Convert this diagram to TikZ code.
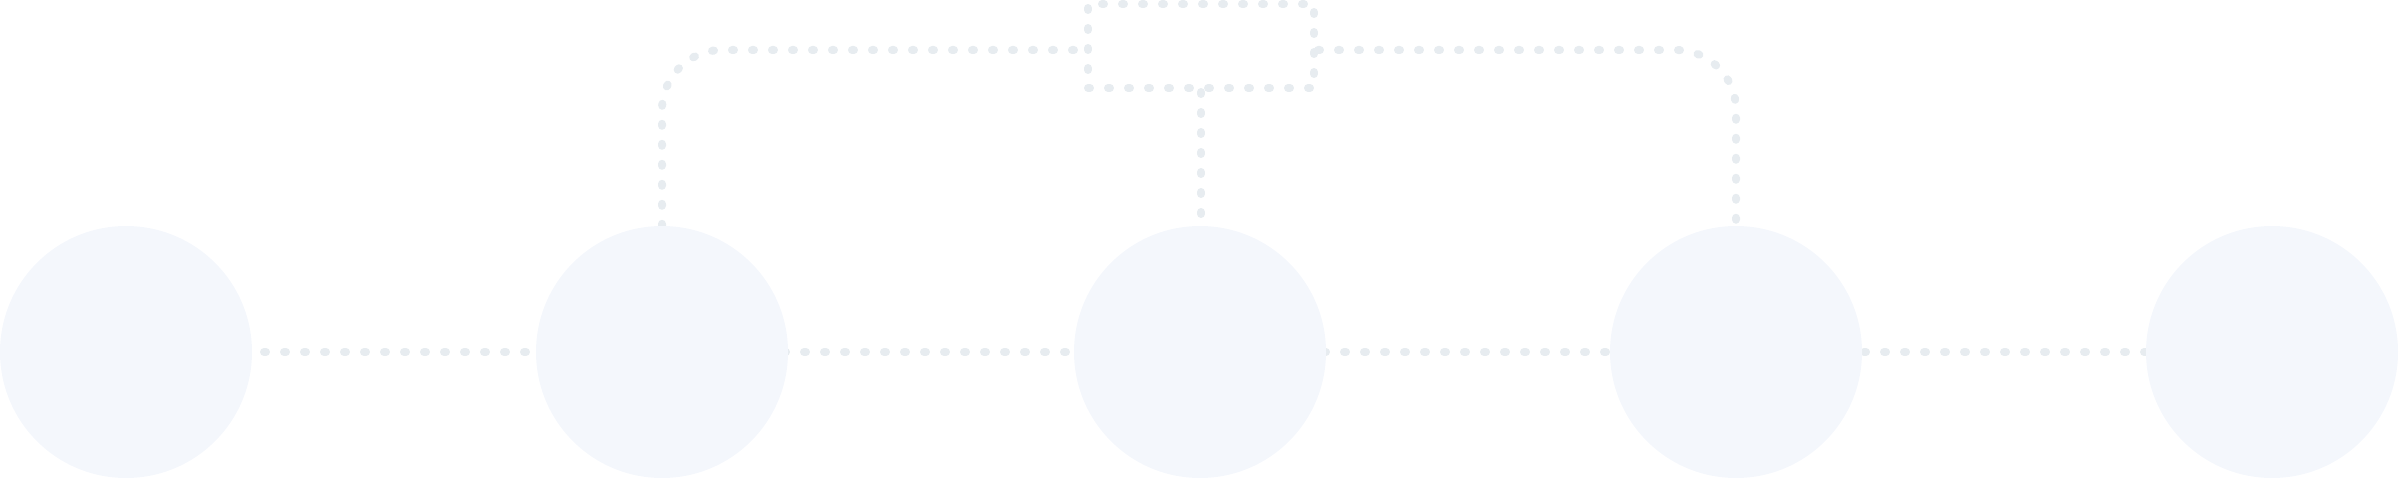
\documentclass[tikz,border=0pt]{standalone}
\usetikzlibrary{backgrounds}
\definecolor{dotgrey}{HTML}{E7ECF0}
\definecolor{circfill}{HTML}{F4F7FC}
\tikzset{
  dotline/.style={draw=dotgrey, line width=8pt, line cap=round, dash pattern=on 2pt off 18pt},
  stepcircle/.style={circle, fill=circfill, draw=none, minimum size=252pt, inner sep=0pt},
  topbox/.style={rectangle, dotline, minimum width=226pt, minimum height=84pt, inner sep=0pt}
}
\begin{document}
\begin{tikzpicture}[x=1pt, y=-1pt]
  \useasboundingbox (0,0) rectangle (2398,478);
  \node[stepcircle] (c1) at (126,352) {};
  \node[stepcircle] (c2) at (662,352) {};
  \node[stepcircle] (c3) at (1200,352) {};
  \node[stepcircle] (c4) at (1736,352) {};
  \node[stepcircle] (c5) at (2272,352) {};
  \node[topbox] (box) at (1201,46) {};
  \coordinate (bl) at ([yshift=-4pt]box.west);
  \coordinate (br) at ([yshift=-4pt]box.east);
  \begin{pgfonlayer}{background}
    \draw[dotline, dash phase=2pt] (c1.center) -- (c5.center);
    \draw[dotline, rounded corners=60pt] (c2.north) |- (bl);
    \draw[dotline, rounded corners=60pt] (br) -| (c4.north);
    \draw[dotline] (box.south) -- (box.south |- c3.north);
  \end{pgfonlayer}
\end{tikzpicture}
\end{document}
